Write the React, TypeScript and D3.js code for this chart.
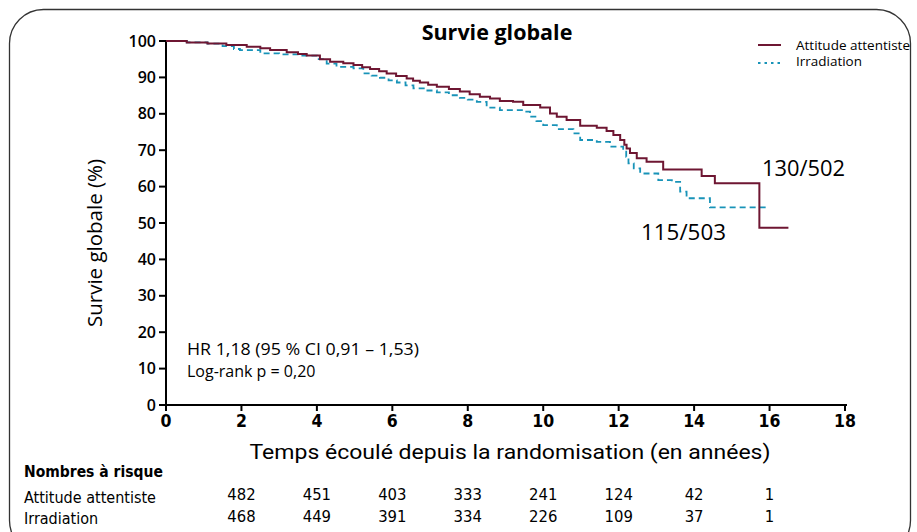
import React from "react";
import * as d3 from "d3";

const W = 917;
const H = 532;

// Kaplan–Meier step points [years, survival %]
const attentisteTimes = [0, 0.55, 1.1, 1.6, 2.14, 2.5, 2.76, 3.2, 3.5, 3.73, 4.08, 4.35, 4.7, 4.97, 5.2, 5.41, 5.65, 5.85, 6.1, 6.38, 6.55, 6.73, 6.95, 7.18, 7.5, 7.79, 8.05, 8.32, 8.59, 8.85, 9.2, 9.47, 9.92, 10.18, 10.36, 10.62, 10.98, 11.42, 11.68, 11.86, 12.04, 12.15, 12.21, 12.3, 12.48, 12.74, 13.18, 14.2, 14.55, 15.73, 16.5];
const attentisteSurv = [100, 99.6, 99.3, 98.9, 98.4, 98.0, 97.5, 96.9, 96.4, 96.0, 95.0, 94.3, 93.9, 93.4, 92.8, 92.3, 91.7, 91.1, 90.4, 89.7, 89.1, 88.6, 88.0, 87.4, 86.8, 86.1, 85.4, 84.7, 84.2, 83.5, 83.3, 82.4, 81.7, 80.1, 79.2, 78.3, 76.7, 76.2, 75.3, 74.2, 72.8, 71.5, 70.5, 69.2, 67.8, 66.8, 64.7, 62.9, 60.9, 48.7, 48.7];

const irradiationTimes = [0, 0.55, 1.1, 1.5, 1.8, 1.96, 2.5, 3.0, 3.55, 4.0, 4.26, 4.52, 4.97, 5.23, 5.45, 5.67, 5.9, 6.12, 6.35, 6.56, 6.9, 7.18, 7.5, 7.79, 8.0, 8.24, 8.5, 8.85, 9.47, 9.65, 9.82, 10.0, 10.36, 10.8, 10.98, 11.42, 11.77, 12.12, 12.2, 12.26, 12.4, 12.57, 13.05, 13.41, 13.63, 13.8, 14.42, 15.92];
const irradiationSurv = [100, 99.6, 99.3, 98.6, 97.8, 97.5, 96.6, 96.3, 96.0, 95.0, 93.8, 92.9, 92.5, 91.1, 90.5, 89.9, 89.2, 88.6, 87.8, 87.0, 86.4, 85.9, 85.1, 84.4, 83.9, 83.3, 81.7, 81.0, 80.6, 79.2, 78.0, 76.9, 75.8, 74.6, 72.8, 72.3, 71.0, 69.6, 68.2, 66.4, 65.0, 63.6, 61.8, 61.3, 58.6, 56.8, 54.3, 54.3];

const xTicks = [0, 2, 4, 6, 8, 10, 12, 14, 16, 18];
const yTicks = [0, 10, 20, 30, 40, 50, 60, 70, 80, 90, 100];

const riskTimes = [2, 4, 6, 8, 10, 12, 14, 16];
const riskAttentiste = [482, 451, 403, 333, 241, 124, 42, 1];
const riskIrradiation = [468, 449, 391, 334, 226, 109, 37, 1];

const seriesNames = ["Attitude attentiste", "Irradiation"];

const RED = "#6e1632";
const BLUE = "#1893b8";

export default function App() {
  const x = d3.scaleLinear().domain([0, 18]).range([166, 845]);
  const y = d3.scaleLinear().domain([0, 100]).range([405, 41]);

  const line = d3
    .line<[number, number]>()
    .x((d) => x(d[0]))
    .y((d) => y(d[1]))
    .curve(d3.curveStepAfter);

  const redPts = attentisteTimes.map((t, i) => [t, attentisteSurv[i]] as [number, number]);
  const bluePts = irradiationTimes.map((t, i) => [t, irradiationSurv[i]] as [number, number]);

  const tickFont = "'Open Sans', sans-serif";
  const narrow = "'Liberation Sans Narrow', 'DejaVu Sans Condensed', sans-serif";

  return (
    <svg
      width={W}
      height={H}
      style={{ position: "absolute", left: 0, top: 0, background: "#fff" }}
    >
      <rect x={0} y={0} width={W} height={H} fill="#fff" />
      <rect x={9.5} y={9.5} width={901} height={545} rx={34} ry={34} fill="none" stroke="#333" strokeWidth={1.3} />

      {/* Title */}
      <text x={497} y={40} textAnchor="middle" fontFamily="'Open Sans', sans-serif" fontWeight={700} fontSize={21.5} fill="#000">
        Survie globale
      </text>

      {/* Legend */}
      <line x1={758} x2={781} y1={45} y2={45} stroke={RED} strokeWidth={2} />
      <text x={796} y={49.5} fontFamily="'Open Sans', sans-serif" fontWeight={500} fontSize={12} fill="#000" textLength={114} lengthAdjust="spacingAndGlyphs">
        {seriesNames[0]}
      </text>
      <line x1={758} x2={781} y1={63} y2={63} stroke={BLUE} strokeWidth={2} strokeDasharray="2.5,4" />
      <text x={796} y={66} fontFamily="'Open Sans', sans-serif" fontWeight={500} fontSize={12} fill="#000" textLength={66} lengthAdjust="spacingAndGlyphs">
        {seriesNames[1]}
      </text>

      {/* Y axis */}
      <line x1={166} x2={166} y1={y(100)} y2={411} stroke="#000" strokeWidth={2} />
      {yTicks.map((t) => (
        <g key={"y" + t}>
          <line x1={159} x2={166} y1={y(t)} y2={y(t)} stroke="#000" strokeWidth={2} />
          <text x={156} y={y(t) + 5.5} textAnchor="end" fontFamily={tickFont} fontWeight={600} fontSize={16} fill="#000">
            {t}
          </text>
        </g>
      ))}

      {/* X axis */}
      <line x1={159} x2={847} y1={y(0)} y2={y(0)} stroke="#000" strokeWidth={2} />
      {xTicks.map((t) => (
        <g key={"x" + t}>
          <line x1={x(t)} x2={x(t)} y1={y(0)} y2={y(0) + 6} stroke="#000" strokeWidth={2} />
          <text x={x(t)} y={y(0) + 22} textAnchor="middle" fontFamily={narrow} fontWeight={600} fontSize={17.5} fill="#000">
            {t}
          </text>
        </g>
      ))}

      {/* Axis labels */}
      <text
        x={510}
        y={459}
        textAnchor="middle"
        fontFamily="'Roboto', sans-serif"
        fontSize={20.5}
        fill="#000"
        textLength={521}
        lengthAdjust="spacingAndGlyphs"
      >
        Temps écoulé depuis la randomisation (en années)
      </text>
      <text
        transform="translate(102,243) rotate(-90)"
        textAnchor="middle"
        fontFamily="'Open Sans', sans-serif"
        fontSize={20.5}
        fill="#000"
      >
        Survie globale (%)
      </text>

      {/* Curves */}
      <path d={line(bluePts) || ""} fill="none" stroke={BLUE} strokeWidth={1.8} strokeDasharray="6,4" />
      <path d={line(redPts) || ""} fill="none" stroke={RED} strokeWidth={2} />

      {/* Annotations */}
      <text x={762} y={176} fontFamily="'Open Sans', sans-serif" fontSize={21.5} fill="#000" textLength={83} lengthAdjust="spacingAndGlyphs">
        130/502
      </text>
      <text x={641} y={240} fontFamily="'Open Sans', sans-serif" fontSize={21.5} fill="#000" textLength={85} lengthAdjust="spacingAndGlyphs">
        115/503
      </text>
      <text x={187} y={355} fontFamily="'Open Sans', sans-serif" fontSize={16} fill="#000" textLength={232} lengthAdjust="spacingAndGlyphs">
        HR 1,18 (95 % CI 0,91 – 1,53)
      </text>
      <text x={187} y={377} fontFamily="'Open Sans', sans-serif" fontSize={16} fill="#000">
        Log-rank p = 0,20
      </text>

      {/* Numbers at risk */}
      <text x={24} y={477} fontFamily={narrow} fontWeight={700} fontSize={15.5} fill="#000">
        Nombres à risque
      </text>
      <text x={24} y={503} fontFamily={narrow} fontSize={16} fill="#000">
        {seriesNames[0]}
      </text>
      <text x={24} y={524} fontFamily={narrow} fontSize={16} fill="#000">
        {seriesNames[1]}
      </text>
      {riskTimes.map((t, i) => (
        <g key={"r" + t}>
          <text x={x(t)} y={500} textAnchor="middle" fontFamily={narrow} fontSize={16.5} fill="#000">
            {riskAttentiste[i]}
          </text>
          <text x={x(t)} y={522} textAnchor="middle" fontFamily={narrow} fontSize={16.5} fill="#000">
            {riskIrradiation[i]}
          </text>
        </g>
      ))}
    </svg>
  );
}
